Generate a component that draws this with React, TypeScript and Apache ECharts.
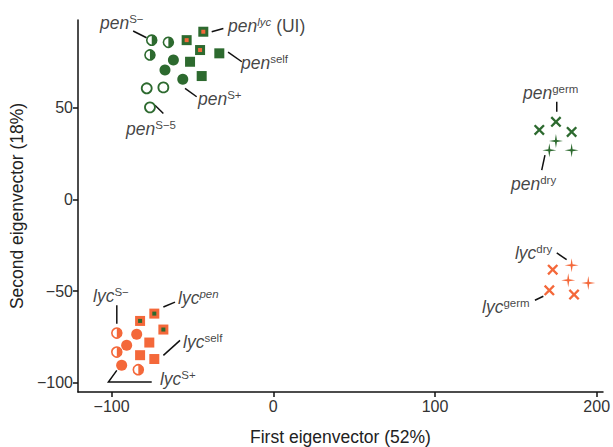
import React, { useEffect, useRef } from "react";
import * as echarts from "echarts";

// ---- data (first eigenvector, second eigenvector) ----
const penSminus = [[-75.2, 87.0], [-64.9, 85.8], [-76.3, 78.9]];
const penSplus = [[-61.8, 76.2], [-67.0, 70.7], [-56.0, 65.6]];
const penS5 = [[-78.3, 60.7], [-68.0, 61.2], [-76.3, 50.3]];
const penSelf = [[-51.5, 75.2], [-44.3, 67.4], [-33.4, 79.8]];
const penLyc = [[-53.6, 87.0], [-43.3, 91.6], [-45.3, 81.6]];
const penGerm = [[164.5, 38.0], [174.8, 42.4], [184.5, 36.9]];
const penDry = [[174.8, 31.9], [170.7, 26.9], [184.5, 26.9]];
const lycSminus = [[-96.8, -72.9], [-96.8, -83.3], [-83.5, -92.9]];
const lycSplus = [[-84.5, -73.6], [-90.7, -79.6], [-93.8, -90.5]];
const lycSelf = [[-76.7, -78.1], [-82.4, -85.0], [-73.6, -87.1]];
const lycPen = [[-82.4, -66.3], [-73.6, -62.3], [-68.0, -71.0]];
const lycGerm = [[172.8, -38.3], [170.7, -49.6], [186.0, -51.9]];
const lycDry = [[184.5, -35.9], [182.4, -44.1], [194.8, -45.6]];

const xTicks = [-100, 0, 100, 200];
const yTicks = [-100, -50, 0, 50];

// annotation labels
const labelTexts = [
  "{m|pen}{s|S\u2212}",
  "{m|pen}{si|lyc}{n| (UI)}",
  "{m|pen}{s|self}",
  "{m|pen}{s|S+}",
  "{m|pen}{s|S\u22125}",
  "{m|pen}{s|germ}",
  "{m|pen}{s|dry}",
  "{m|lyc}{s|dry}",
  "{m|lyc}{s|germ}",
  "{m|lyc}{s|S\u2212}",
  "{m|lyc}{si|pen}",
  "{m|lyc}{s|self}",
  "{m|lyc}{s|S+}",
];
const labelAnchors = [
  [-107.2, 96.3], [-28.0, 94.6], [-20.0, 74.5], [-46.6, 54.8], [-91.1, 38.4],
  [154.4, 58.1], [147.0, 8.4], [149.4, -29.3], [129.1, -58.9],
  [-111.5, -52.8], [-58.9, -53.9], [-55.8, -78.0], [-70.1, -98.0],
];
const leaderLines = [
  [[-86.7, 92.0], [-78.4, 88.3]],
  [[-38.1, 91.6], [-30.9, 93.4]],
  [[-28.0, 80.5], [-19.5, 75.2]],
  [[-54.6, 60.7], [-47.4, 56.1]],
  [[-73.2, 51.5], [-68.0, 47.0]],
  [[175.3, 53.3], [175.3, 47.9]],
  [[168.0, 24.2], [166.0, 16.0]],
  [[175.3, -29.2], [181.4, -32.8]],
  [[161.8, -55.0], [167.0, -52.8]],
  [[-96.8, -57.8], [-96.8, -67.8]],
  [[-68.0, -58.7], [-60.8, -56.0]],
  [[-68.0, -85.1], [-57.7, -76.9]],
  [[-96.8, -93.3], [-102.0, -99.7], [-75.2, -99.7]],
];

const GREEN = "#2d6a2f";
const ORANGE = "#f4683a";
const FONT = "'Liberation Sans', Arial, sans-serif";

const HALF = "path://M0,0 A10,10 0 0 1 0,20 Z";
const XSYM =
  "path://M-10,-7 L-7,-10 L0,-3 L7,-10 L10,-7 L3,0 L10,7 L7,10 L0,3 L-7,10 L-10,7 L-3,0 Z";
const STAR =
  "path://M0,-10 L1.4,-1.4 L10,0 L1.4,1.4 L0,10 L-1.4,1.4 L-10,0 L-1.4,-1.4 Z";

function scatter(data: number[][], opts: any) {
  const { itemStyle, ...rest } = opts;
  return { type: "scatter", data, silent: true, z: 3, ...rest, itemStyle: { opacity: 1, ...itemStyle } };
}

function groupSeries(color: string, other: string, d: any) {
  return [
    scatter(d.sminus, { symbol: "circle", symbolSize: 10, itemStyle: { color: "#fff", borderColor: color, borderWidth: 1.6 } }),
    scatter(d.sminus, { symbol: HALF, symbolSize: [5, 10], symbolOffset: [2.5, 0], z: 4, itemStyle: { color } }),
    scatter(d.splus, { symbol: "circle", symbolSize: 11, itemStyle: { color } }),
    scatter(d.self, { symbol: "rect", symbolSize: 10, itemStyle: { color } }),
    scatter(d.other, { symbol: "rect", symbolSize: 10, itemStyle: { color } }),
    scatter(d.other, { symbol: "rect", symbolSize: 4, z: 4, itemStyle: { color: other } }),
    scatter(d.germ, { symbol: XSYM, symbolSize: 11, itemStyle: { color } }),
    scatter(d.dry, { symbol: STAR, symbolSize: 14, itemStyle: { color } }),
  ];
}

export default function App() {
  const ref = useRef<HTMLDivElement>(null);
  useEffect(() => {
    document.body.style.margin = "0";
    const chart = echarts.init(ref.current!, null, { renderer: "svg" });
    const axisCommon = {
      type: "value",
      nameLocation: "middle",
      splitLine: { show: false },
      axisLine: { show: true, onZero: false, lineStyle: { color: "#111", width: 1.5 } },
      nameTextStyle: { fontSize: 17.5, color: "#222", fontFamily: FONT },
    };
    const fmt = (v: number) => (v < 0 ? "\u2212" + Math.abs(v) : String(v));
    const series: any[] = [
      ...groupSeries(GREEN, ORANGE, { sminus: penSminus, splus: penSplus, self: penSelf, other: penLyc, germ: penGerm, dry: penDry }),
      scatter(penS5, { symbol: "circle", symbolSize: 10, itemStyle: { color: "#fff", borderColor: GREEN, borderWidth: 1.8 } }),
      ...groupSeries(ORANGE, GREEN, { sminus: lycSminus, splus: lycSplus, self: lycSelf, other: lycPen, germ: lycGerm, dry: lycDry }),
      {
        type: "lines",
        coordinateSystem: "cartesian2d",
        polyline: true,
        silent: true,
        z: 2,
        lineStyle: { color: "#111", width: 1.5, opacity: 1 },
        data: leaderLines.map((c) => ({ coords: c })),
      },
      {
        type: "scatter",
        silent: true,
        symbolSize: 0,
        z: 5,
        data: labelAnchors.map((p, i) => ({ value: p, name: labelTexts[i] })),
        label: {
          show: true,
          position: "right",
          distance: 0,
          formatter: (p: any) => p.name,
          rich: {
            m: { fontSize: 17.5, fontStyle: "italic", color: "#111", fontFamily: FONT, lineHeight: 20 },
            n: { fontSize: 17.5, color: "#111", fontFamily: FONT, lineHeight: 20 },
            s: { fontSize: 11.5, color: "#111", fontFamily: FONT, lineHeight: 11, verticalAlign: "top" },
            si: { fontSize: 11.5, fontStyle: "italic", color: "#111", fontFamily: FONT, lineHeight: 11, verticalAlign: "top" },
          },
        },
      },
    ];
    chart.setOption({
      animation: false,
      backgroundColor: "#fff",
      textStyle: { fontFamily: FONT },
      grid: { left: 78, top: 20, width: 525, height: 372, containLabel: false, outerBoundsMode: "none" },
      xAxis: {
        ...axisCommon,
        min: -120.8,
        max: 203.9,
        name: "First eigenvector (52%)",
        nameGap: 36,
        axisTick: { show: true, length: 5, customValues: xTicks, lineStyle: { color: "#111", width: 1.5 } },
        axisLabel: { customValues: xTicks, fontSize: 16, color: "#333", margin: 6, formatter: fmt },
      },
      yAxis: {
        ...axisCommon,
        min: -105.1,
        max: 98,
        name: "Second eigenvector (18%)",
        nameGap: 47,
        axisTick: { show: true, length: 5, customValues: yTicks, lineStyle: { color: "#111", width: 1.5 } },
        axisLabel: { customValues: yTicks, fontSize: 16, color: "#333", margin: 5, formatter: fmt },
      },
      series,
    });
    return () => chart.dispose();
  }, []);
  return <div ref={ref} style={{ width: 613, height: 447 }} />;
}
